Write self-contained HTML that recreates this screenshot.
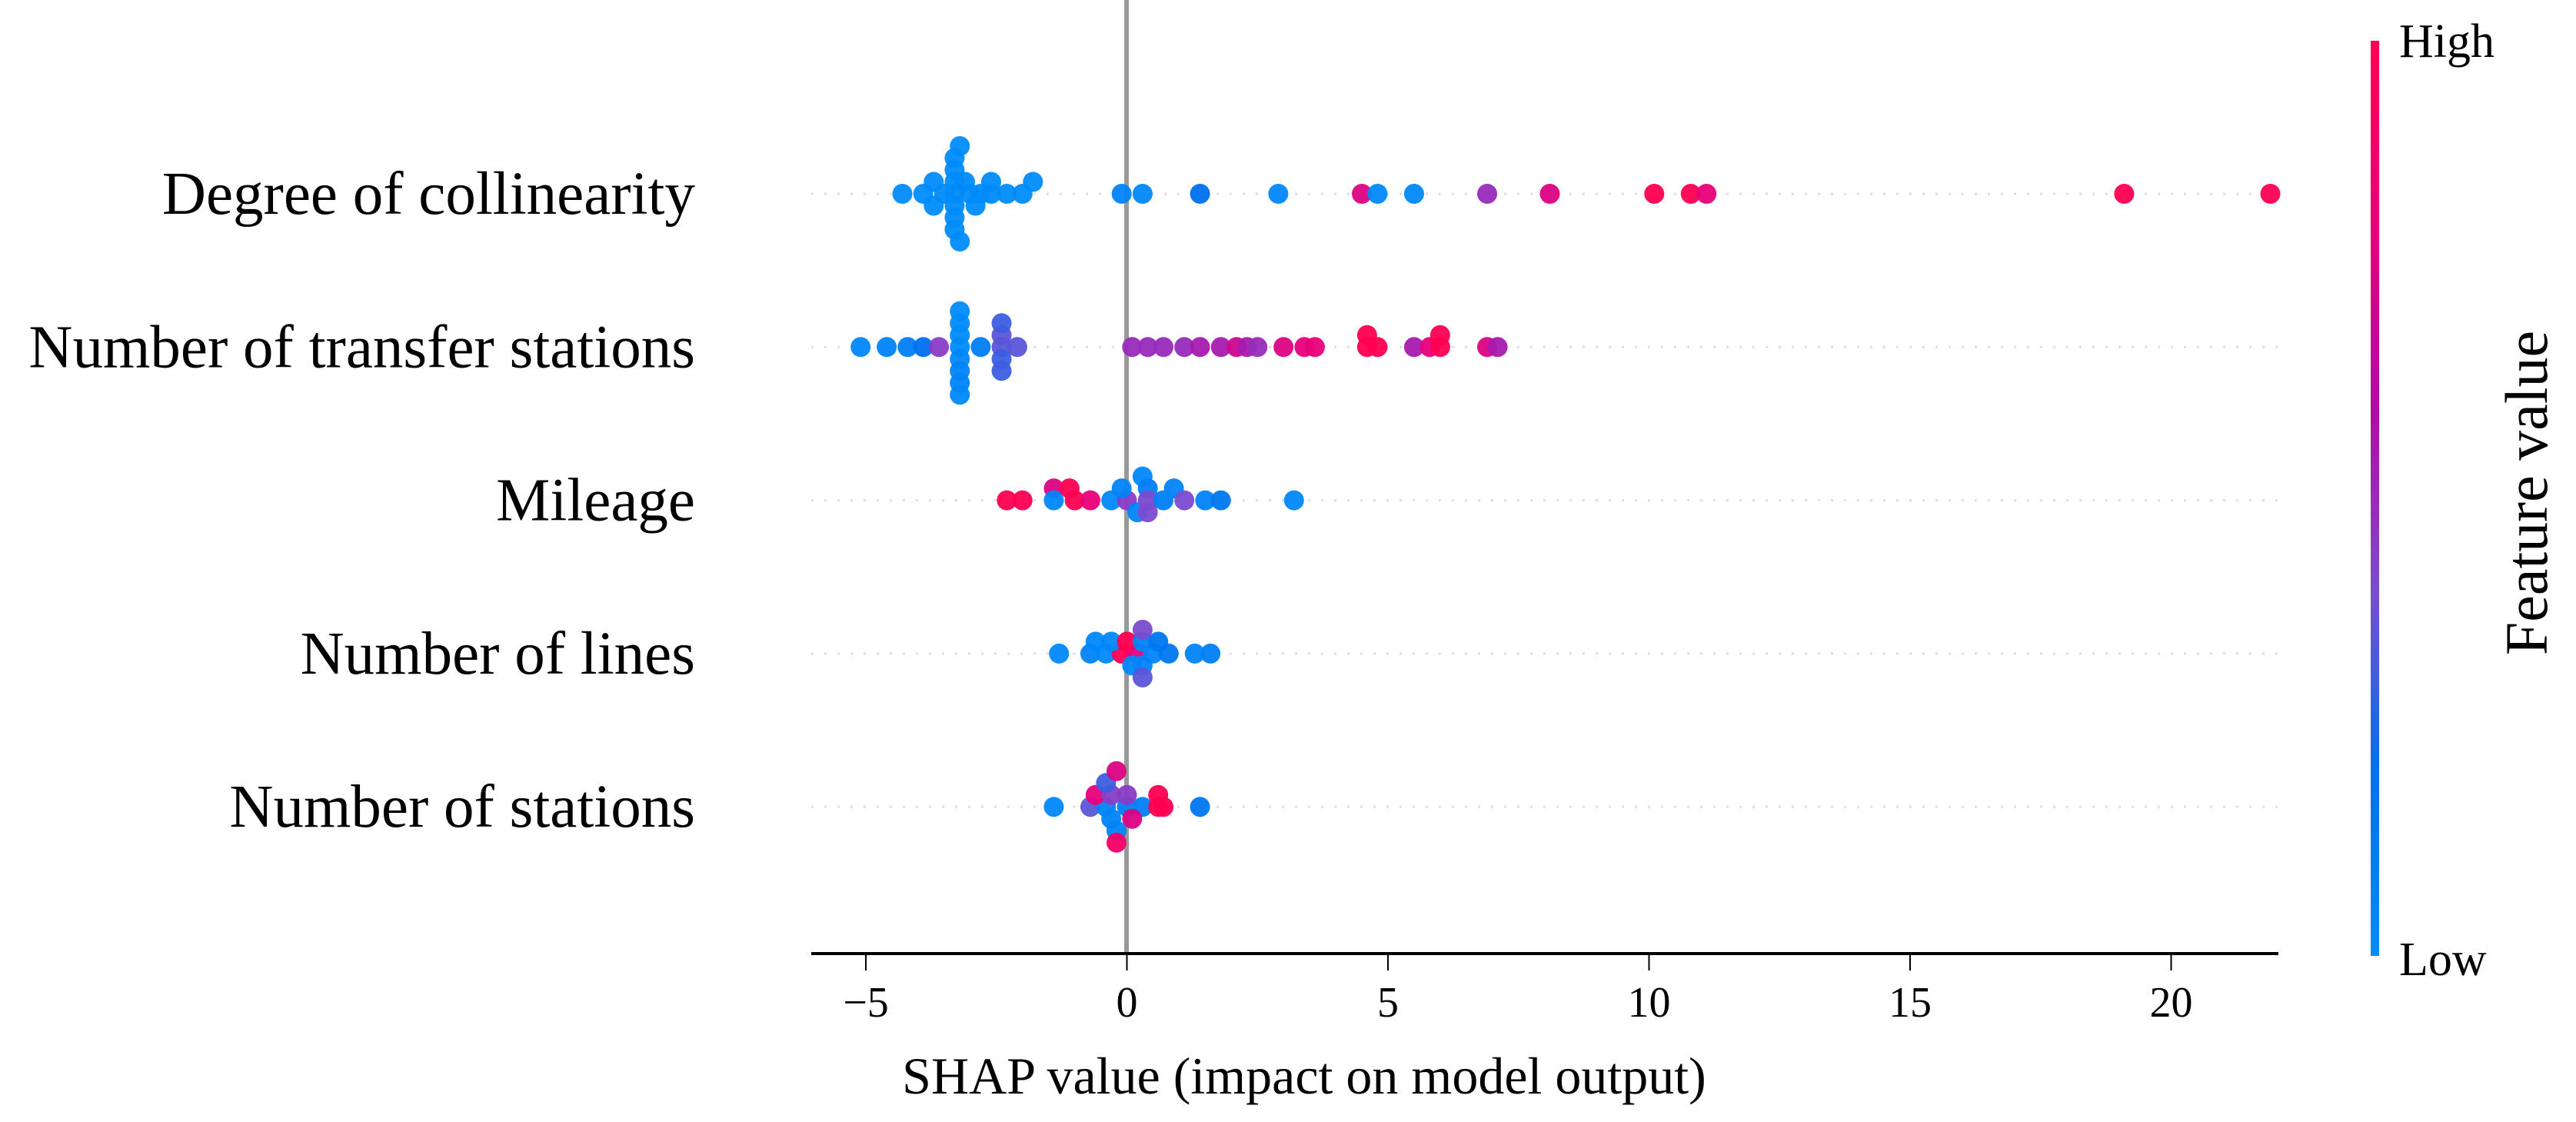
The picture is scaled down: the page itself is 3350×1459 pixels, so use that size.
<!DOCTYPE html>
<html><head><meta charset="utf-8"><style>
html,body{margin:0;padding:0;background:#fff;}
svg{display:block;font-family:"Liberation Serif",serif;}
</style></head><body>
<svg id="chart" width="3350" height="1459" viewBox="0 0 3350 1459" xmlns="http://www.w3.org/2000/svg">
<defs>
<linearGradient id="cbar" x1="0" y1="1" x2="0" y2="0">
<stop offset="0" stop-color="#008bfb"/>
<stop offset="0.2" stop-color="#0070ee"/>
<stop offset="0.4" stop-color="#7a4cd0"/>
<stop offset="0.6" stop-color="#b50aa3"/>
<stop offset="0.8" stop-color="#e8007a"/>
<stop offset="1" stop-color="#ff0052"/>
</linearGradient>
</defs>
<g id="grid"></g>
<line x1="1465" y1="0" x2="1465" y2="1239" stroke="#999" stroke-width="6"/>
<g id="dots"></g>
<g id="labels"></g>
<line x1="1055" y1="1240" x2="2963" y2="1240" stroke="#000" stroke-width="4"/>
<g id="xticks"></g>
<text x="1696" y="1422" font-size="68" text-anchor="middle">SHAP value (impact on model output)</text>
<rect x="3083" y="53" width="11" height="1190" fill="url(#cbar)"/>
<text x="3120" y="74" font-size="62">High</text>
<text x="3120" y="1268" font-size="62">Low</text>
<text x="0" y="0" font-size="78" text-anchor="middle" transform="translate(3312,641) rotate(-90)">Feature value</text>
</svg>
<script>
const features = ["Degree of collinearity","Number of transfer stations","Mileage","Number of lines","Number of stations"];
const xTicks = [-5,0,5,10,15,20];
// per row: shap values, stack levels, feature values (0 low .. 1 high)
const shap0 = [-4.3,-3.9,-3.7,-3.7,-3.5,-3.3,-3.3,-3.3,-3.3,-3.3,-3.3,-3.3,-3.2,-3.2,-3.1,-3.0,-2.9,-2.8,-2.6,-2.6,-2.3,-2.0,-1.8,-0.1,0.3,1.4,2.9,4.5,4.8,5.5,6.9,8.1,10.1,10.8,11.1,19.1,21.9];
const lvl0  = [0,0,1,-1,0,0,1,-1,2,-2,3,-3,4,-4,1,0,-1,0,1,0,0,0,1,0,0,0,0,0,0,0,0,0,0,0,0,0,0];
const fv0   = [0,0,0,0,0,0,0,0,0,0,0,0,0,0,0,0,0,0,0,0,0,0,0,0.05,0.02,0.2,0.02,0.75,0.02,0.02,0.5,0.75,1,1,0.8,1,1];
const shap1 = [-5.1,-4.6,-4.2,-3.9,-3.6,-3.2,-3.2,-3.2,-3.2,-3.2,-3.2,-3.2,-3.2,-2.8,-2.4,-2.4,-2.4,-2.4,-2.4,-2.1,0.1,0.4,0.7,1.1,1.4,1.8,2.1,2.3,2.5,3.0,3.4,3.6,4.6,4.6,4.8,5.5,5.8,6.0,6.0,6.9,7.1];
const lvl1  = [0,0,0,0,0,0,1,-1,2,-2,3,-3,-4,0,0,1,-1,2,-2,0,0,0,0,0,0,0,0,0,0,0,0,0,0,1,0,0,0,0,1,0,0];
const fv1   = [0.02,0.05,0.1,0.2,0.45,0,0,0.02,0,0.05,0,0.05,0.02,0.1,0.35,0.35,0.3,0.3,0.3,0.35,0.5,0.5,0.5,0.5,0.55,0.55,0.7,0.55,0.5,0.75,0.8,0.8,1,1,1,0.55,0.8,1,1,0.75,0.55];
const shap2 = [-2.3,-2.0,-1.4,-1.1,-1.4,-1.0,-0.7,-0.3,0.0,0.3,-0.1,0.4,0.2,0.4,0.4,0.7,0.9,1.1,1.5,1.8,3.2];
const lvl2  = [0,0,1,1,0,0,0,0,0,2,1,1,-1,-1,0,0,1,0,0,0,0];
const fv2   = [1,1,0.75,1,0.02,1,0.8,0.02,0.45,0.02,0.05,0.1,0.05,0.4,0.4,0.1,0.05,0.4,0.05,0.15,0.02];
const shap3 = [-1.3,-0.7,-0.4,-0.1,0.2,0.5,0.8,1.3,1.6,-0.6,-0.3,0.0,0.3,0.6,0.3,0.1,0.3,0.3];
const lvl3  = [0,0,0,0,0,0,0,0,0,1,1,1,1,1,2,-1,-1,-2];
const fv3   = [0.02,0.05,0.02,1,0.75,0.05,0.15,0.05,0.1,0.02,0.02,1,0.05,0.15,0.4,0.02,0.05,0.35];
const shap4 = [-1.4,-0.7,-0.4,0.0,0.3,0.6,0.7,1.4,-0.6,-0.3,0.0,0.6,-0.4,-0.2,-0.3,0.1,-0.2,-0.2];
const lvl4  = [0,0,0,0,0,0,0,0,1,1,1,1,2,3,-1,-1,-2,-3];
const fv4   = [0.02,0.35,0.05,0.1,0.1,1,1,0.15,0.8,0.45,0.45,1,0.3,0.75,0.05,0.75,0.05,0.9];
const rowShap=[shap0,shap1,shap2,shap3,shap4], rowLvl=[lvl0,lvl1,lvl2,lvl3,lvl4], rowFv=[fv0,fv1,fv2,fv3,fv4];

const NS="http://www.w3.org/2000/svg";
function xScale(v){return 1465.5+v*67.9;}
function yRow(i){return 252+i*199.3;}
function lerp(a,b,t){return a+(b-a)*t;}
const stops=[[0,[0,139,251]],[0.2,[0,112,238]],[0.4,[122,76,208]],[0.6,[181,10,163]],[0.8,[232,0,122]],[1,[255,0,82]]];
function color(t){for(let k=1;k<stops.length;k++){if(t<=stops[k][0]){const a=stops[k-1],b=stops[k];const u=(t-a[0])/(b[0]-a[0]);return `rgb(${[0,1,2].map(j=>Math.round(lerp(a[1][j],b[1][j],u))).join(",")})`;}}return "rgb(255,0,82)";}
function mk(tag,attrs,parent){const e=document.createElementNS(NS,tag);for(const k in attrs)e.setAttribute(k,attrs[k]);parent.appendChild(e);return e;}
const grid=document.getElementById("grid"),dots=document.getElementById("dots"),labels=document.getElementById("labels"),xt=document.getElementById("xticks");
features.forEach((f,i)=>{
  const y=yRow(i);
  const g=mk("line",{x1:1055,x2:2963,y1:y,y2:y,stroke:"#ddd","stroke-width":3,"stroke-dasharray":"3,14"},grid);
  
  
  const t=mk("text",{x:904,y:y+26,"font-size":79,"text-anchor":"end"},labels);
  t.textContent=f;
  
  
  const s=rowShap[i],l=rowLvl[i],fv=rowFv[i];
  for(let k=0;k<s.length;k++){
    const c=mk("ellipse",{cx:xScale(s[k]),cy:y-l[k]*15.5,rx:13,ry:13,fill:color(fv[k]),"fill-opacity":0.95},dots);
    
    
  }
});
xTicks.forEach(v=>{
  const x=xScale(v);
  const tl=mk("line",{x1:x,x2:x,y1:1240,y2:1262,stroke:"#000","stroke-width":2},xt);
  
  
  const tx=mk("text",{x:x,y:1322,"font-size":56,"text-anchor":"middle"},xt);
  tx.textContent=v<0?"\u2212"+Math.abs(v):String(v);
  
  
});
</script>
</body></html>
